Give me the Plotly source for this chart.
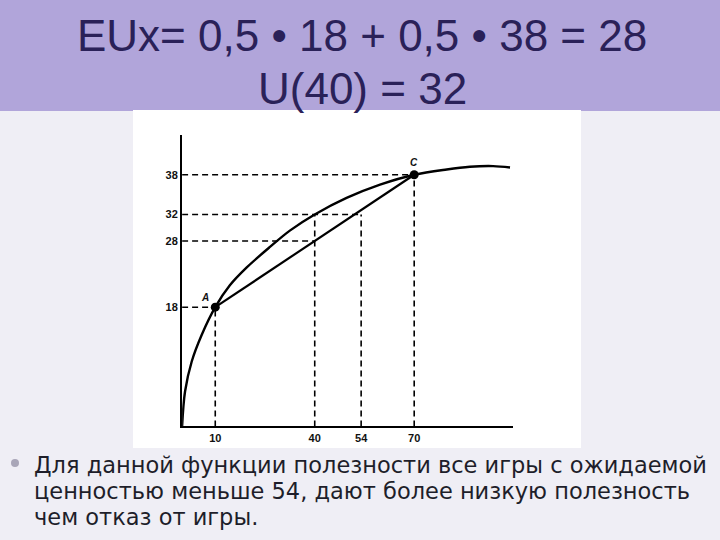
import plotly.graph_objects as go

# ---- data ----
curve_M = [0, 0.9, 2.9, 5.9, 10, 14.4, 19.5, 26.5, 32.6, 40, 49.6, 59.7, 70, 79.8, 86.8, 93.8, 98.9]
curve_U = [0, 5.3, 9.8, 13.8, 18, 21.3, 24.0, 27.1, 29.6, 32, 34.5, 36.5, 38, 38.8, 39.2, 39.3, 39.1]

chord_M = [10, 70]
chord_U = [18, 38]

point_names = ["A", "C"]
point_M = [10, 70]
point_U = [18, 38]

x_ticks = [10, 40, 54, 70]
y_ticks = [18, 28, 32, 38]

# dashed guides: (M, U) corner points
h_guides = [(10, 18), (40, 28), (54, 32), (70, 38)]   # horizontal from axis to M
v_guides = [(10, 18), (40, 32), (54, 32), (70, 38)]   # vertical from axis to U

title_lines = ["EUx= 0,5 • 18 + 0,5 • 38 = 28", "U(40) = 32"]
body_lines = [
    "Для данной функции полезности все игры с ожидаемой",
    "ценностью меньше 54, дают более низкую полезность",
    "чем отказ от игры.",
]

W, H = 720, 540
def px(x):
    return x / W
def py(y):
    return 1 - y / H

fig = go.Figure()

dash_style = dict(color="black", width=1.6, dash="6px,4px")
for m, u in h_guides:
    fig.add_trace(go.Scatter(x=[0, m], y=[u, u], mode="lines", line=dash_style,
                             hoverinfo="skip", showlegend=False))
for m, u in v_guides:
    fig.add_trace(go.Scatter(x=[m, m], y=[0, u], mode="lines", line=dash_style,
                             hoverinfo="skip", showlegend=False))

fig.add_trace(go.Scatter(x=curve_M, y=curve_U, mode="lines",
                         line=dict(color="black", width=2.4, shape="spline", smoothing=1.0),
                         showlegend=False))
fig.add_trace(go.Scatter(x=chord_M, y=chord_U, mode="lines",
                         line=dict(color="black", width=2.2), showlegend=False))
fig.add_trace(go.Scatter(x=point_M, y=point_U, mode="markers",
                         marker=dict(color="black", size=9), showlegend=False))

tick_font = dict(family="Liberation Sans, Arial", size=11, color="#111")
fig.update_layout(
    width=W, height=H,
    margin=dict(l=0, r=0, t=0, b=0, autoexpand=False),
    paper_bgcolor="#EFEEF5",
    plot_bgcolor="rgba(0,0,0,0)",
    xaxis=dict(domain=[182.1 / W, 513 / W], range=[0, 99.8], showgrid=False, zeroline=False,
               showline=True, linecolor="black", linewidth=2.2, ticks="",
               tickvals=x_ticks, ticktext=["<b>%d</b>" % v for v in x_ticks], tickfont=tick_font),
    yaxis=dict(domain=[1 - 426.4 / H, 1 - 135 / H], range=[0, 44], showgrid=False, zeroline=False,
               showline=True, linecolor="black", linewidth=2.2, ticks="",
               tickvals=y_ticks, ticktext=["<b>%d</b>" % v for v in y_ticks], tickfont=tick_font),
    shapes=[
        dict(type="rect", xref="paper", yref="paper", x0=0, x1=1, y0=py(111), y1=1,
             fillcolor="#B1A5DA", line=dict(width=0), layer="below"),
        dict(type="rect", xref="paper", yref="paper", x0=px(133), x1=px(581), y0=py(448), y1=py(110),
             fillcolor="white", line=dict(width=0), layer="below"),
        dict(type="circle", xref="paper", yref="paper", x0=px(11), x1=px(19), y0=py(467), y1=py(459),
             fillcolor="#A9A6B8", line=dict(width=0)),
    ],
)

ann = []
lab_font = dict(family="Liberation Sans, Arial", size=10, color="#111")
ann.append(dict(x=1.4, y=45.8, xref="x", yref="y", text="<b><i>U</i></b>", showarrow=False, font=lab_font))
ann.append(dict(x=103, y=-0.3, xref="x", yref="y", text="<i>M</i>", showarrow=False, font=lab_font))
ann.append(dict(x=109.4, y=39.1, xref="x", yref="y", text="<b><i>U = U(M)</i></b>", showarrow=False, font=lab_font))
offsets = {"A": (-3, 1.4), "C": (0, 1.8)}
for n, m, u in zip(point_names, point_M, point_U):
    dx, du = offsets[n]
    ann.append(dict(x=m + dx, y=u + du, xref="x", yref="y", text="<b><i>%s</i></b>" % n,
                    showarrow=False, font=lab_font))

title_font = dict(family="Liberation Sans, Arial", size=44, color="#2A2158")
ann.append(dict(x=px(362), y=py(36), xref="paper", yref="paper", text=title_lines[0],
                yanchor="middle", showarrow=False, font=title_font))
ann.append(dict(x=px(362), y=py(89), xref="paper", yref="paper", text=title_lines[1],
                yanchor="middle", showarrow=False, font=title_font))

body_font = dict(family="DejaVu Sans", size=22.5, color="#1E1E2A")
for i, line in enumerate(body_lines):
    ann.append(dict(x=px(32), y=py(465 + 26 * i), xref="paper", yref="paper", text=line,
                    xanchor="left", yanchor="middle", showarrow=False, font=body_font))

fig.update_layout(annotations=ann)
fig.write_html("out.html", config={"displayModeBar": False},
               post_script="document.body.style.margin='0';")
